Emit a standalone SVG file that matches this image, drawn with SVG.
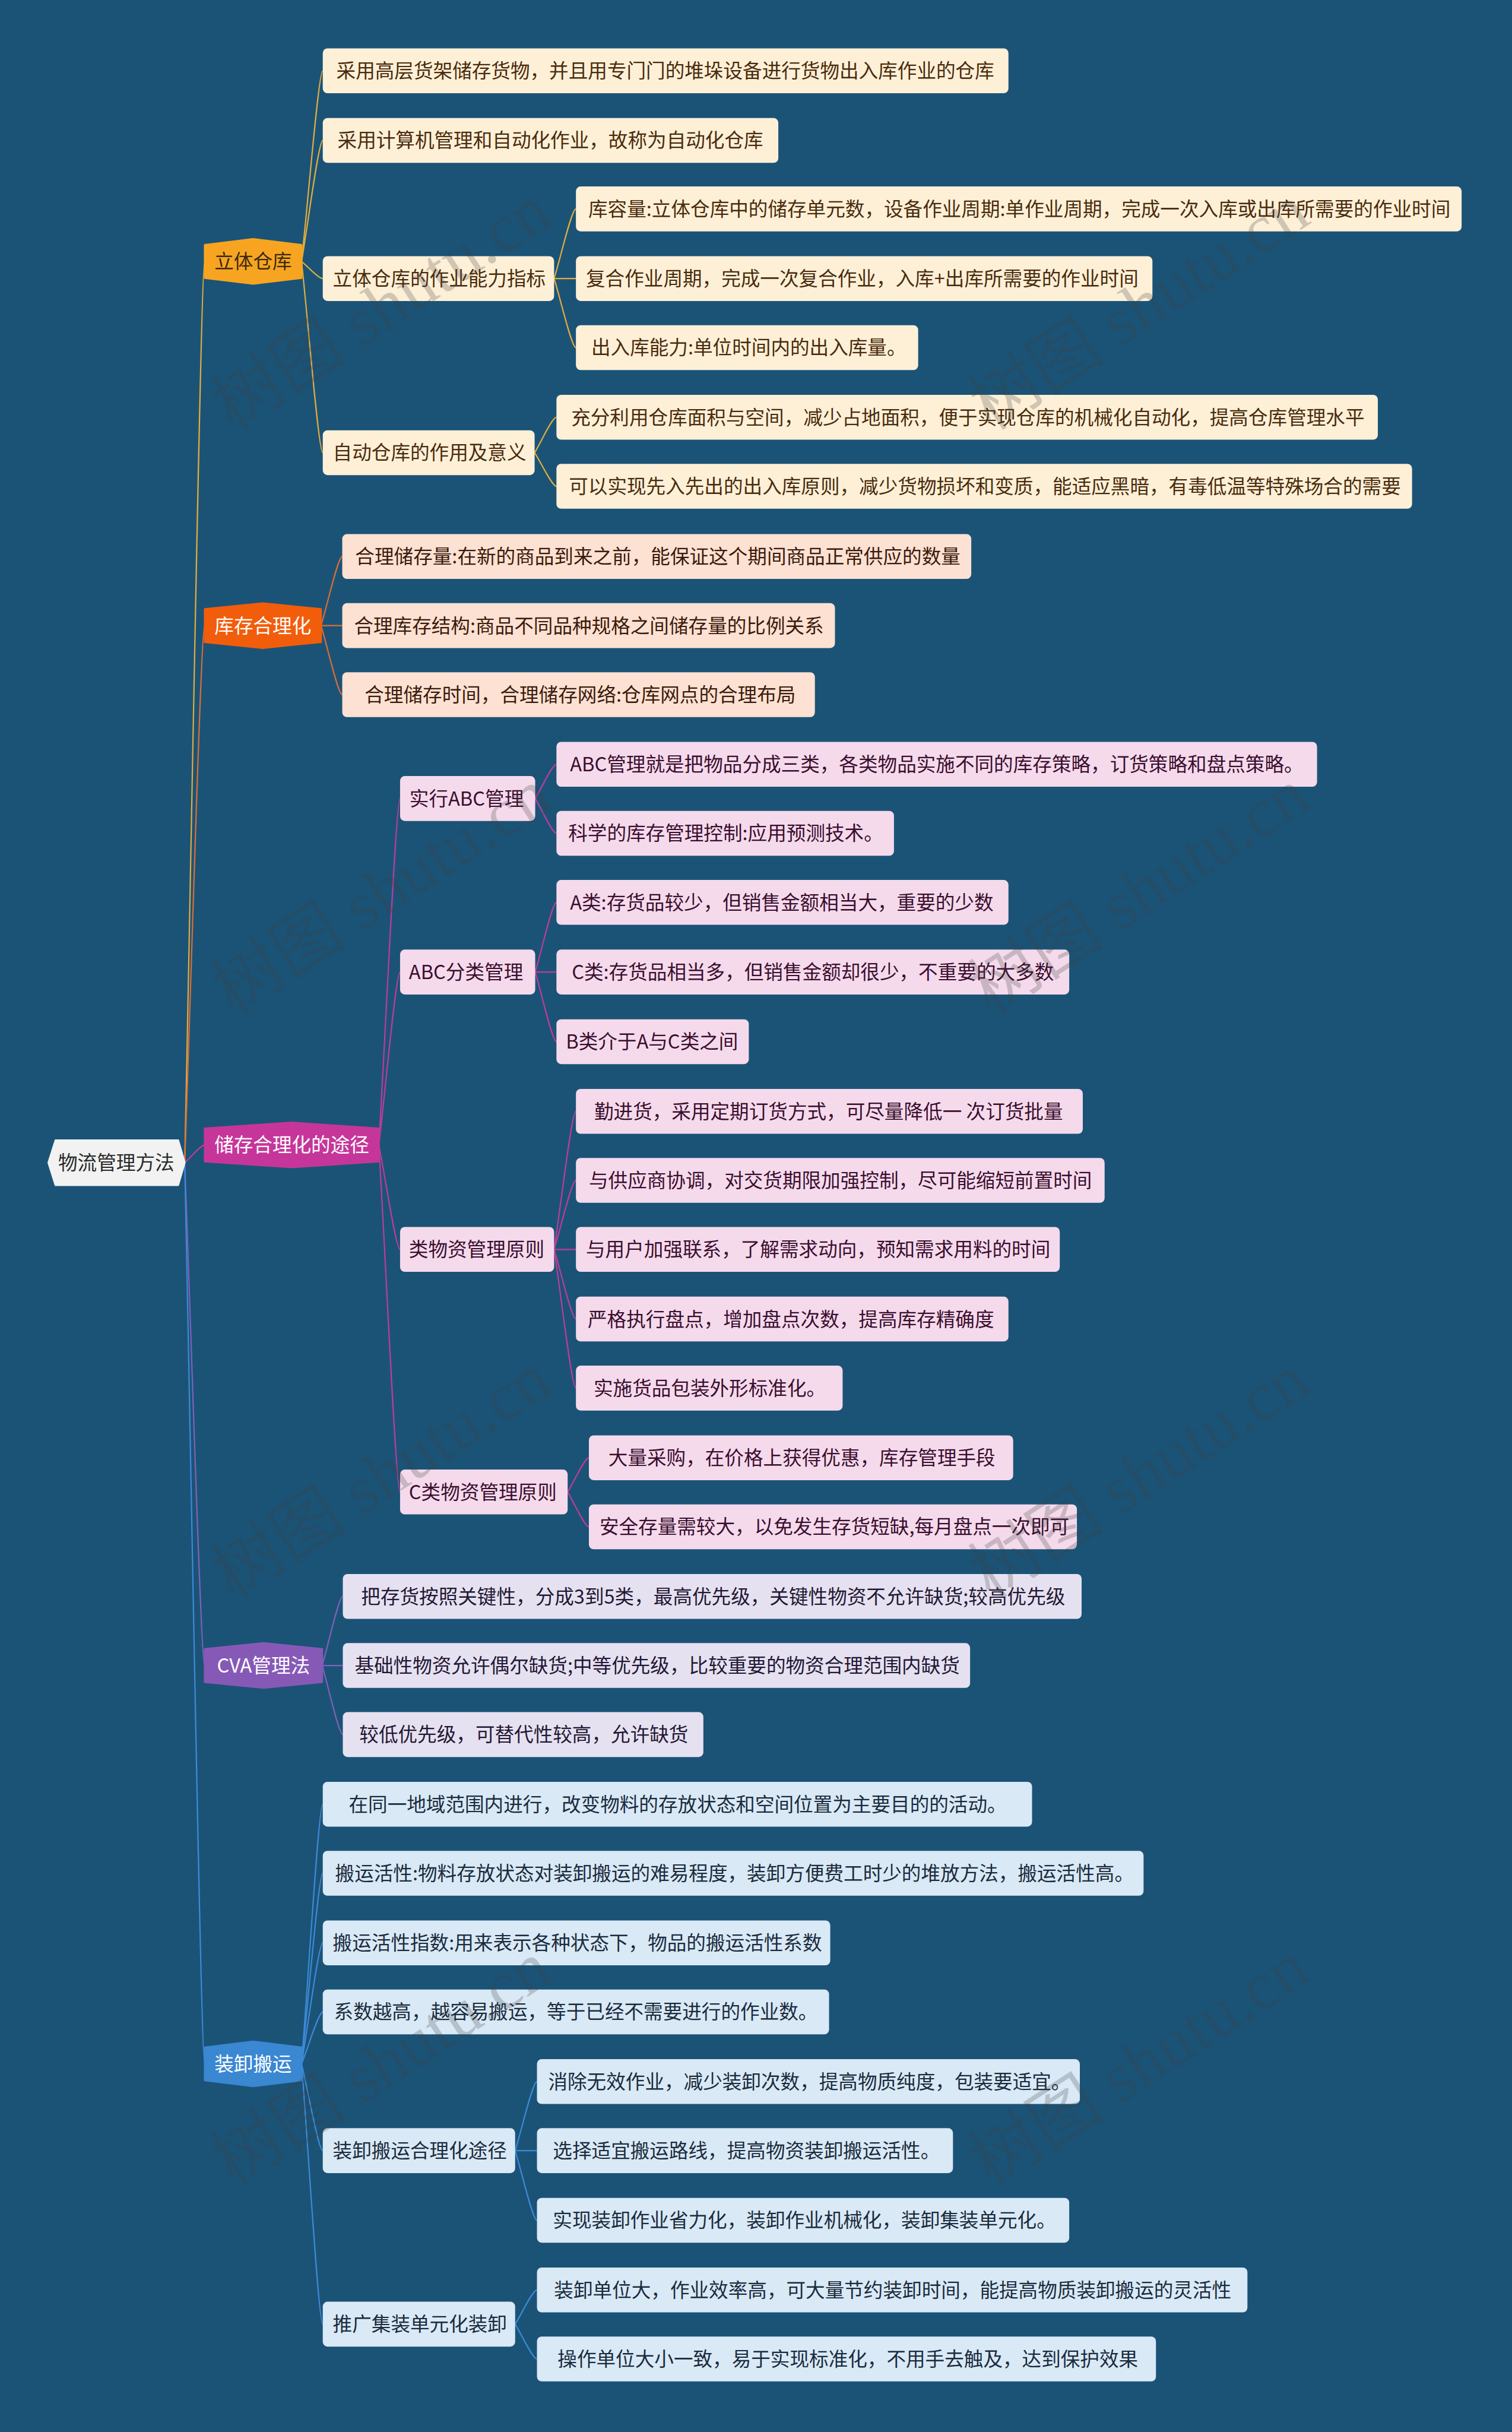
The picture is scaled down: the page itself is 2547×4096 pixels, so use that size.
<svg xmlns="http://www.w3.org/2000/svg" width="2547" height="4096" viewBox="0 0 2547 4096">
<style>
text{font-family:"Noto Sans CJK SC","Noto Sans",sans-serif;font-size:32.8px}
.c1{fill:#FDF0D7}.c2{fill:#FDE1D2}.c3{fill:#F5DAEC}.c4{fill:#E6E1F1}.c5{fill:#D9E9F6}
.t1{fill:#4A2B0D}.t2{fill:#3B1A0B}.t3{fill:#3A0E2E}.t4{fill:#221833}.t5{fill:#1B2B3D}
.w{fill:#FFFFFF}
.k1{stroke:#E2AD3E}.k2{stroke:#DC6E34}.k3{stroke:#BE3C98}.k4{stroke:#8160B8}.k5{stroke:#3C8AD8}
#connectors path{fill:none;stroke-width:2.2}
.wm{font-family:"Liberation Serif","Noto Sans CJK SC",serif;font-size:116px;fill:#404040;fill-opacity:0.24}
</style>
<rect x="0" y="0" width="2547" height="4096" fill="#1B5377"/>
<g transform="scale(0.994)">
<g id="connectors">
<path class="k1" d="M313,1970 C323.2,1511.9 340.2,443 347,443"/>
<path class="k2" d="M313,1970 C323.2,1697 340.2,1060 347,1060"/>
<path class="k3" d="M313,1970 C323.2,1961 340.2,1940 347,1940"/>
<path class="k4" d="M313,1970 C323.2,2225.6 340.2,2822 347,2822"/>
<path class="k5" d="M313,1970 C323.2,2428.1 340.2,3497 347,3497"/>
<path class="k1" d="M511,443 C521.8,346.1 539.8,120 547,120"/>
<path class="k1" d="M511,443 C521.8,381.5 539.8,238 547,238"/>
<path class="k1" d="M511,443 C521.8,451.7 539.8,472 547,472"/>
<path class="k1" d="M511,443 C521.8,540.2 539.8,767 547,767"/>
<path class="k1" d="M939,472 C950.1,436.6 968.6,354 976,354"/>
<path class="k1" d="M939,472 L976,472"/>
<path class="k1" d="M939,472 C950.1,507.1 968.6,589 976,589"/>
<path class="k1" d="M906,767 C917.1,749 935.6,707 943,707"/>
<path class="k1" d="M906,767 C917.1,784.1 935.6,824 943,824"/>
<path class="k2" d="M544,1060 C554.8,1024.9 572.8,943 580,943"/>
<path class="k2" d="M544,1060 L580,1060"/>
<path class="k2" d="M544,1060 C554.8,1095.1 572.8,1177 580,1177"/>
<path class="k3" d="M642,1940 C652.8,1763.9 670.8,1353 678,1353"/>
<path class="k3" d="M642,1940 C652.8,1852.1 670.8,1647 678,1647"/>
<path class="k3" d="M642,1940 C652.8,1993.1 670.8,2117 678,2117"/>
<path class="k3" d="M642,1940 C652.8,2116.4 670.8,2528 678,2528"/>
<path class="k3" d="M907,1353 C917.8,1335.6 935.8,1295 943,1295"/>
<path class="k3" d="M907,1353 C917.8,1370.7 935.8,1412 943,1412"/>
<path class="k3" d="M907,1647 C917.8,1611.6 935.8,1529 943,1529"/>
<path class="k3" d="M907,1647 L943,1647"/>
<path class="k3" d="M907,1647 C917.8,1682.4 935.8,1765 943,1765"/>
<path class="k3" d="M939,2117 C950.1,2046.8 968.6,1883 976,1883"/>
<path class="k3" d="M939,2117 C950.1,2081.9 968.6,2000 976,2000"/>
<path class="k3" d="M939,2117 L976,2117"/>
<path class="k3" d="M939,2117 C950.1,2152.4 968.6,2235 976,2235"/>
<path class="k3" d="M939,2117 C950.1,2187.5 968.6,2352 976,2352"/>
<path class="k3" d="M962,2528 C972.8,2510.6 990.8,2470 998,2470"/>
<path class="k3" d="M962,2528 C972.8,2545.7 990.8,2587 998,2587"/>
<path class="k4" d="M546,2822 C556.5,2786.9 574,2705 581,2705"/>
<path class="k4" d="M546,2822 L581,2822"/>
<path class="k4" d="M546,2822 C556.5,2857.1 574,2939 581,2939"/>
<path class="k5" d="M511,3497 C521.8,3365 539.8,3057 547,3057"/>
<path class="k5" d="M511,3497 C521.8,3400.1 539.8,3174 547,3174"/>
<path class="k5" d="M511,3497 C521.8,3435.5 539.8,3292 547,3292"/>
<path class="k5" d="M511,3497 C521.8,3470.6 539.8,3409 547,3409"/>
<path class="k5" d="M511,3497 C521.8,3541.1 539.8,3644 547,3644"/>
<path class="k5" d="M511,3497 C521.8,3629.3 539.8,3938 547,3938"/>
<path class="k5" d="M873,3644 C884.1,3608.9 902.6,3527 910,3527"/>
<path class="k5" d="M873,3644 L910,3644"/>
<path class="k5" d="M873,3644 C884.1,3679.4 902.6,3762 910,3762"/>
<path class="k5" d="M873,3938 C884.1,3920.6 902.6,3880 910,3880"/>
<path class="k5" d="M873,3938 C884.1,3955.7 902.6,3997 910,3997"/>
</g>

<g id="root">
<polygon points="82,1970 94,1932 302,1932 313,1970 302,2008 94,2008" fill="#F1F2F1" stroke="#F1F2F1" stroke-width="3" stroke-linejoin="round"/>
<text x="197" y="1982" text-anchor="middle" fill="#2A2A2A">物流管理方法</text>
</g>

<g id="b1">
<polygon points="347,415 429,405 511,415 511,471 429,481 347,471" fill="#F7A521" stroke="#F7A521" stroke-width="3" stroke-linejoin="round"/>
<text x="429" y="455" text-anchor="middle" fill="#3D2A10">立体仓库</text>
</g>
<g id="b1a"><rect class="c1" x="547" y="82" width="1162" height="76" rx="8"/><text class="t1" x="570" y="132">采用高层货架储存货物，并且用专门门的堆垛设备进行货物出入库作业的仓库</text></g>
<g id="b1b"><rect class="c1" x="547" y="200" width="772" height="76" rx="8"/><text class="t1" x="572" y="250">采用计算机管理和自动化作业，故称为自动化仓库</text></g>
<g id="b1c"><rect class="c1" x="547" y="434" width="392" height="76" rx="8"/><text class="t1" x="564" y="484">立体仓库的作业能力指标</text></g>
<g id="b1c1"><rect class="c1" x="976" y="316" width="1501" height="76" rx="8"/><text class="t1" x="997" y="366">库容量:立体仓库中的储存单元数，设备作业周期:单作业周期，完成一次入库或出库所需要的作业时间</text></g>
<g id="b1c2"><rect class="c1" x="976" y="434" width="977" height="76" rx="8"/><text class="t1" x="993" y="484">复合作业周期，完成一次复合作业，入库+出库所需要的作业时间</text></g>
<g id="b1c3"><rect class="c1" x="976" y="551" width="580" height="76" rx="8"/><text class="t1" x="1002" y="601">出入库能力:单位时间内的出入库量。</text></g>
<g id="b1d"><rect class="c1" x="547" y="729" width="359" height="76" rx="8"/><text class="t1" x="564" y="779">自动仓库的作用及意义</text></g>
<g id="b1d1"><rect class="c1" x="943" y="669" width="1392" height="76" rx="8"/><text class="t1" x="968" y="719">充分利用仓库面积与空间，减少占地面积，便于实现仓库的机械化自动化，提高仓库管理水平</text></g>
<g id="b1d2"><rect class="c1" x="943" y="786" width="1450" height="76" rx="8"/><text class="t1" x="964" y="836">可以实现先入先出的出入库原则，减少货物损坏和变质，能适应黑暗，有毒低温等特殊场合的需要</text></g>

<g id="b2">
<polygon points="347,1032 445.5,1022 544,1032 544,1088 445.5,1098 347,1088" fill="#F25D0B" stroke="#F25D0B" stroke-width="3" stroke-linejoin="round"/>
<text class="w" x="445.5" y="1072" text-anchor="middle">库存合理化</text>
</g>
<g id="b2a"><rect class="c2" x="580" y="905" width="1066" height="76" rx="8"/><text class="t2" x="602" y="955">合理储存量:在新的商品到来之前，能保证这个期间商品正常供应的数量</text></g>
<g id="b2b"><rect class="c2" x="580" y="1022" width="835" height="76" rx="8"/><text class="t2" x="600" y="1072">合理库存结构:商品不同品种规格之间储存量的比例关系</text></g>
<g id="b2c"><rect class="c2" x="580" y="1139" width="801" height="76" rx="8"/><text class="t2" x="618" y="1189">合理储存时间，合理储存网络:仓库网点的合理布局</text></g>

<g id="b3">
<polygon points="347,1912 494.5,1902 642,1912 642,1968 494.5,1978 347,1968" fill="#C6369A" stroke="#C6369A" stroke-width="3" stroke-linejoin="round"/>
<text class="w" x="494.5" y="1952" text-anchor="middle">储存合理化的途径</text>
</g>
<g id="b3a"><rect class="c3" x="678" y="1315" width="229" height="76" rx="8"/><text class="t3" x="694" y="1365">实行ABC管理</text></g>
<g id="b3a1"><rect class="c3" x="943" y="1257" width="1289" height="76" rx="8"/><text class="t3" x="966" y="1307">ABC管理就是把物品分成三类，各类物品实施不同的库存策略，订货策略和盘点策略。</text></g>
<g id="b3a2"><rect class="c3" x="943" y="1374" width="572" height="76" rx="8"/><text class="t3" x="963" y="1424">科学的库存管理控制:应用预测技术。</text></g>
<g id="b3b"><rect class="c3" x="678" y="1609" width="229" height="76" rx="8"/><text class="t3" x="693" y="1659">ABC分类管理</text></g>
<g id="b3b1"><rect class="c3" x="943" y="1491" width="766" height="76" rx="8"/><text class="t3" x="966" y="1541">A类:存货品较少，但销售金额相当大，重要的少数</text></g>
<g id="b3b2"><rect class="c3" x="943" y="1609" width="869" height="76" rx="8"/><text class="t3" x="969" y="1659">C类:存货品相当多，但销售金额却很少，不重要的大多数</text></g>
<g id="b3b3"><rect class="c3" x="943" y="1727" width="326" height="76" rx="8"/><text class="t3" x="959" y="1777">B类介于A与C类之间</text></g>
<g id="b3c"><rect class="c3" x="678" y="2079" width="261" height="76" rx="8"/><text class="t3" x="693" y="2129">类物资管理原则</text></g>
<g id="b3c1"><rect class="c3" x="976" y="1845" width="859" height="76" rx="8"/><text class="t3" x="1007" y="1895">勤进货，采用定期订货方式，可尽量降低一 次订货批量</text></g>
<g id="b3c2"><rect class="c3" x="976" y="1962" width="896" height="76" rx="8"/><text class="t3" x="998" y="2012">与供应商协调，对交货期限加强控制，尽可能缩短前置时间</text></g>
<g id="b3c3"><rect class="c3" x="976" y="2079" width="820" height="76" rx="8"/><text class="t3" x="993" y="2129">与用户加强联系，了解需求动向，预知需求用料的时间</text></g>
<g id="b3c4"><rect class="c3" x="976" y="2197" width="733" height="76" rx="8"/><text class="t3" x="996" y="2247">严格执行盘点，增加盘点次数，提高库存精确度</text></g>
<g id="b3c5"><rect class="c3" x="976" y="2314" width="452" height="76" rx="8"/><text class="t3" x="1006" y="2364">实施货品包装外形标准化。</text></g>
<g id="b3d"><rect class="c3" x="678" y="2490" width="284" height="76" rx="8"/><text class="t3" x="693" y="2540">C类物资管理原则</text></g>
<g id="b3d1"><rect class="c3" x="998" y="2432" width="719" height="76" rx="8"/><text class="t3" x="1031" y="2482">大量采购，在价格上获得优惠，库存管理手段</text></g>
<g id="b3d2"><rect class="c3" x="998" y="2549" width="827" height="76" rx="8"/><text class="t3" x="1016" y="2599">安全存量需较大，以免发生存货短缺,每月盘点一次即可</text></g>

<g id="b4">
<polygon points="347,2794 446.5,2784 546,2794 546,2850 446.5,2860 347,2850" fill="#8759B7" stroke="#8759B7" stroke-width="3" stroke-linejoin="round"/>
<text class="w" x="446.5" y="2834" text-anchor="middle">CVA管理法</text>
</g>
<g id="b4a"><rect class="c4" x="581" y="2667" width="1252" height="76" rx="8"/><text class="t4" x="612" y="2717">把存货按照关键性，分成3到5类，最高优先级，关键性物资不允许缺货;较高优先级</text></g>
<g id="b4b"><rect class="c4" x="581" y="2784" width="1063" height="76" rx="8"/><text class="t4" x="601" y="2834">基础性物资允许偶尔缺货;中等优先级，比较重要的物资合理范围内缺货</text></g>
<g id="b4c"><rect class="c4" x="581" y="2901" width="611" height="76" rx="8"/><text class="t4" x="609" y="2951">较低优先级，可替代性较高，允许缺货</text></g>

<g id="b5">
<polygon points="347,3469 429,3459 511,3469 511,3525 429,3535 347,3525" fill="#3A87D2" stroke="#3A87D2" stroke-width="3" stroke-linejoin="round"/>
<text class="w" x="429" y="3509" text-anchor="middle">装卸搬运</text>
</g>
<g id="b5a"><rect class="c5" x="547" y="3019" width="1202" height="76" rx="8"/><text class="t5" x="591" y="3069">在同一地域范围内进行，改变物料的存放状态和空间位置为主要目的的活动。</text></g>
<g id="b5b"><rect class="c5" x="547" y="3136" width="1391" height="76" rx="8"/><text class="t5" x="568" y="3186">搬运活性:物料存放状态对装卸搬运的难易程度，装卸方便费工时少的堆放方法，搬运活性高。</text></g>
<g id="b5c"><rect class="c5" x="547" y="3254" width="860" height="76" rx="8"/><text class="t5" x="564" y="3304">搬运活性指数:用来表示各种状态下，物品的搬运活性系数</text></g>
<g id="b5d"><rect class="c5" x="547" y="3371" width="858" height="76" rx="8"/><text class="t5" x="566" y="3421">系数越高，越容易搬运，等于已经不需要进行的作业数。</text></g>
<g id="b5e"><rect class="c5" x="547" y="3606" width="326" height="76" rx="8"/><text class="t5" x="564" y="3656">装卸搬运合理化途径</text></g>
<g id="b5e1"><rect class="c5" x="910" y="3489" width="920" height="76" rx="8"/><text class="t5" x="929" y="3539">消除无效作业，减少装卸次数，提高物质纯度，包装要适宜。</text></g>
<g id="b5e2"><rect class="c5" x="910" y="3606" width="705" height="76" rx="8"/><text class="t5" x="937" y="3656">选择适宜搬运路线，提高物资装卸搬运活性。</text></g>
<g id="b5e3"><rect class="c5" x="910" y="3724" width="902" height="76" rx="8"/><text class="t5" x="937" y="3774">实现装卸作业省力化，装卸作业机械化，装卸集装单元化。</text></g>
<g id="b5f"><rect class="c5" x="547" y="3900" width="326" height="76" rx="8"/><text class="t5" x="564" y="3950">推广集装单元化装卸</text></g>
<g id="b5f1"><rect class="c5" x="910" y="3842" width="1204" height="76" rx="8"/><text class="t5" x="939" y="3892">装卸单位大，作业效率高，可大量节约装卸时间，能提高物质装卸搬运的灵活性</text></g>
<g id="b5f2"><rect class="c5" x="910" y="3959" width="1049" height="76" rx="8"/><text class="t5" x="945" y="4009">操作单位大小一致，易于实现标准化，不用手去触及，达到保护效果</text></g>

<g id="watermark">
<text class="wm" x="646" y="560" text-anchor="middle" transform="rotate(-33 646 520)">树图 shutu.cn</text>
<text class="wm" x="1930" y="560" text-anchor="middle" transform="rotate(-33 1930 520)">树图 shutu.cn</text>
<text class="wm" x="646" y="1550" text-anchor="middle" transform="rotate(-33 646 1510)">树图 shutu.cn</text>
<text class="wm" x="1930" y="1550" text-anchor="middle" transform="rotate(-33 1930 1510)">树图 shutu.cn</text>
<text class="wm" x="646" y="2540" text-anchor="middle" transform="rotate(-33 646 2500)">树图 shutu.cn</text>
<text class="wm" x="1930" y="2540" text-anchor="middle" transform="rotate(-33 1930 2500)">树图 shutu.cn</text>
<text class="wm" x="646" y="3537" text-anchor="middle" transform="rotate(-33 646 3497)">树图 shutu.cn</text>
<text class="wm" x="1930" y="3537" text-anchor="middle" transform="rotate(-33 1930 3497)">树图 shutu.cn</text>
</g>
</g>
</svg>
